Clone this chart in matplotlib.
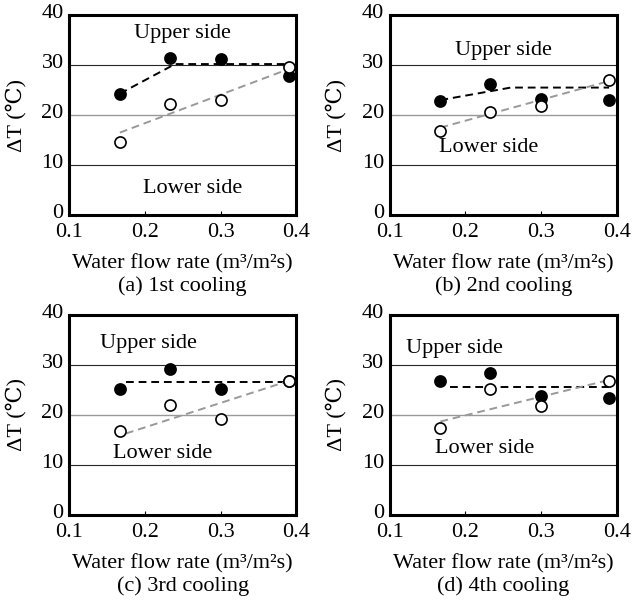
import matplotlib
matplotlib.use("Agg")
import matplotlib.pyplot as plt
from matplotlib.transforms import ScaledTranslation

plt.rcParams['font.family'] = ['Liberation Serif', 'DejaVu Serif']

flow = [0.167, 0.233, 0.300, 0.390]

upper = {
    'a': [24.2, 31.5, 31.2, 27.8],
    'b': [22.8, 26.3, 23.3, 23.1],
    'c': [25.1, 29.1, 25.1, 26.8],
    'd': [26.7, 28.3, 23.8, 23.3],
}
lower = {
    'a': [14.7, 22.3, 23.0, 29.7],
    'b': [16.9, 20.7, 21.8, 27.0],
    'c': [16.8, 21.9, 19.2, 26.8],
    'd': [17.3, 25.2, 21.7, 26.8],
}

# fitted trend lines (x, y)
upper_fit_x = {'a': [0.167, 0.240, 0.390], 'b': [0.167, 0.260, 0.390],
               'c': [0.175, 0.390], 'd': [0.180, 0.390]}
upper_fit_y = {'a': [24.3, 30.2, 30.2], 'b': [23.0, 25.5, 25.5],
               'c': [26.6, 26.6], 'd': [25.5, 25.5]}
lower_fit_x = {'a': [0.167, 0.390], 'b': [0.167, 0.390],
               'c': [0.175, 0.390], 'd': [0.167, 0.390]}
lower_fit_y = {'a': [16.5, 29.2], 'b': [17.5, 26.8],
               'c': [16.3, 26.8], 'd': [18.7, 27.0]}

# label positions (x, y) for "Upper side" / "Lower side"
upper_lab = {'a': (0.25, 36.3), 'b': (0.25, 32.9), 'c': (0.205, 34.3), 'd': (0.186, 33.3)}
lower_lab = {'a': (0.263, 5.3), 'b': (0.231, 13.5), 'c': (0.224, 12.3), 'd': (0.225, 13.3)}

captions = {'a': '(a) 1st cooling', 'b': '(b) 2nd cooling',
            'c': '(c) 3rd cooling', 'd': '(d) 4th cooling'}

fig = plt.figure(figsize=(6.41, 6.01), dpi=100)

# axes boxes in figure fraction
boxes = {'a': [0.108, 0.642, 0.354, 0.333], 'b': [0.608, 0.642, 0.354, 0.333],
         'c': [0.108, 0.143, 0.354, 0.333], 'd': [0.608, 0.143, 0.354, 0.333]}

fs = 16
for k in ['a', 'b', 'c', 'd']:
    ax = fig.add_axes(boxes[k])
    ax.set_xlim(0.1, 0.4)
    ax.set_ylim(0, 40)

    # horizontal grid lines
    ax.axhline(10, color='0.15', lw=0.8, zorder=1)
    ax.axhline(20, color='0.6', lw=1.0, zorder=1)
    ax.axhline(30, color='0.15', lw=0.8, zorder=1)

    ax.plot(upper_fit_x[k], upper_fit_y[k], ls=(0, (4, 2.5)), color='black', lw=1.4, zorder=2)
    ax.plot(lower_fit_x[k], lower_fit_y[k], ls=(0, (4, 2.5)), color='0.6', lw=1.4, zorder=2)

    ax.plot(flow, upper[k], 'o', ms=8, mfc='black', mec='black', mew=1.2,
            zorder=3, clip_on=False)
    ax.plot(flow, lower[k], 'o', ms=8, mfc='white', mec='black', mew=1.2,
            zorder=4, clip_on=False)

    ax.text(*upper_lab[k], 'Upper side', ha='center', va='center', fontsize=fs)
    ax.text(*lower_lab[k], 'Lower side', ha='center', va='center', fontsize=fs)

    ax.set_xticks([0.1, 0.2, 0.3, 0.4])
    ax.set_xticklabels(['0.1', '0.2', '0.3', '0.4'])
    ax.set_yticks([0, 10, 20, 30, 40])
    ax.tick_params(axis='x', direction='in', length=3, width=0.8, labelsize=fs, pad=6)
    ax.tick_params(axis='y', length=0, labelsize=fs, pad=4)
    # y tick labels sit a touch high, as in the original
    up = ScaledTranslation(0, 3 / 72, fig.dpi_scale_trans)
    for lab in ax.get_yticklabels():
        lab.set_transform(lab.get_transform() + up)
    for s in ax.spines.values():
        s.set_linewidth(2.2)

    ax.set_ylabel('ΔT (℃)', fontsize=fs)
    ax.yaxis.set_label_coords(-0.19, 0.5)
    ax.text(0.5, -0.245, 'Water flow rate (m³/m²s)', transform=ax.transAxes,
            ha='center', va='center', fontsize=fs)
    ax.text(0.5, -0.355, captions[k], transform=ax.transAxes,
            ha='center', va='center', fontsize=fs)

fig.savefig('out.png', dpi=100)
